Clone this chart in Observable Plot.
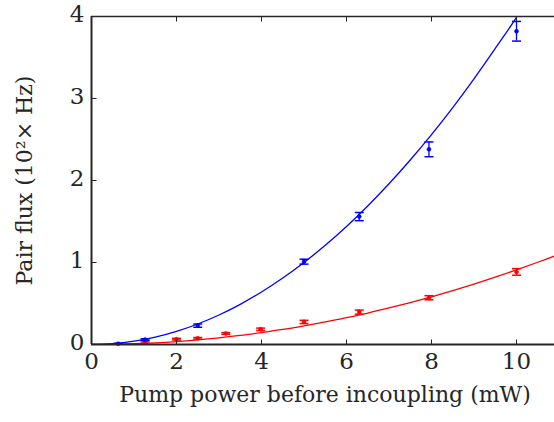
<!DOCTYPE html>
<html><head><meta charset="utf-8">
<script src="https://cdn.jsdelivr.net/npm/d3@7"></script>
<script src="https://cdn.jsdelivr.net/npm/@observablehq/plot@0.6"></script>
<style>body{margin:0;background:#fff}</style>
</head><body><div id="chart"></div>
<script>
const xTicks = [0, 2, 4, 6, 8, 10];
const yTicks = [0, 1, 2, 3, 4];
const xLabel = "Pump power before incoupling (mW)";
const yLabel = "Pair flux (10²× Hz)";

const blueX = [0.63, 1.26, 2.5, 5.0, 6.3, 7.94, 10.0];
const blueY = [0.01, 0.06, 0.23, 1.01, 1.56, 2.38, 3.82];
const blueErr = [0.005, 0.01, 0.02, 0.03, 0.05, 0.09, 0.12];

const redX = [1.26, 2.0, 2.5, 3.16, 3.98, 5.0, 6.3, 7.94, 10.0];
const redY = [0.04, 0.065, 0.075, 0.135, 0.185, 0.275, 0.395, 0.57, 0.885];
const redErr = [0.01, 0.01, 0.01, 0.01, 0.015, 0.02, 0.025, 0.025, 0.04];

const fitX = [0,0.5,1,1.5,2,2.5,3,3.5,4,4.5,5,5.5,6,6.5,7,7.5,8,8.5,9,9.5,10,10.5,11];
const blueFit = [0,0.01,0.04,0.09,0.16,0.25,0.36,0.49,0.64,0.81,1.0,1.21,1.44,1.69,1.96,2.25,2.56,2.89,3.24,3.61,3.99,4.41,4.84];
const redFit = [0,0.002,0.009,0.020,0.036,0.057,0.082,0.111,0.146,0.184,0.228,0.275,0.328,0.384,0.446,0.512,0.582,0.657,0.737,0.821,0.91,1.003,1.10];

const blue = blueX.map((x,i)=>({x, y: blueY[i], e: blueErr[i]}));
const red = redX.map((x,i)=>({x, y: redY[i], e: redErr[i]}));
const bFit = fitX.map((x,i)=>({x, y: blueFit[i]}));
const rFit = fitX.map((x,i)=>({x, y: redFit[i]}));

const BLUE = "#0000ff", RED = "#ff0000", AX = "#262626";
const FONT = "DejaVu Serif";

const capSym = {draw(ctx){ ctx.moveTo(-4.5,0); ctx.lineTo(4.5,0); }};
const tickUp = {draw(ctx){ ctx.moveTo(0,0); ctx.lineTo(0,-5); }};
const tickDown = {draw(ctx){ ctx.moveTo(0,0); ctx.lineTo(0,5); }};
const tickRight = {draw(ctx){ ctx.moveTo(0,0); ctx.lineTo(5,0); }};

function errMarks(data, color){
  return [
    Plot.ruleX(data, {x: "x", y1: d=>d.y-d.e, y2: d=>d.y+d.e, stroke: color, strokeWidth: 1.3}),
    Plot.dot(data, {x: "x", y: d=>d.y-d.e, symbol: capSym, stroke: color, strokeWidth: 1.5, r: 3}),
    Plot.dot(data, {x: "x", y: d=>d.y+d.e, symbol: capSym, stroke: color, strokeWidth: 1.5, r: 3}),
    Plot.dot(data, {x: "x", y: "y", r: 2, fill: color, stroke: color, strokeWidth: 0.5})
  ];
}

const chart = Plot.plot({
  width: 554, height: 422,
  marginLeft: 91, marginRight: 0, marginTop: 16, marginBottom: 78,
  style: {background: "#fff"},
  x: {domain: [0, 10.894], axis: null},
  y: {domain: [0, 4], axis: null},
  marks: [
    Plot.line(rFit, {x: "x", y: "y", stroke: RED, strokeWidth: 1.3, curve: "catmull-rom", clip: true}),
    Plot.line(bFit, {x: "x", y: "y", stroke: BLUE, strokeWidth: 1.3, curve: "catmull-rom", clip: true}),
    ...errMarks(red, RED),
    ...errMarks(blue, BLUE),
    Plot.ruleY([0], {stroke: AX, strokeWidth: 2}),
    Plot.ruleY([4], {stroke: AX, strokeWidth: 1.5}),
    Plot.ruleX([0], {stroke: AX, strokeWidth: 2}),
    Plot.dot(xTicks, {x: d=>d, y: 0, symbol: tickUp, stroke: AX, strokeWidth: 1}),
    Plot.dot(xTicks, {x: d=>d, y: 4, symbol: tickDown, stroke: AX, strokeWidth: 1}),
    Plot.dot(yTicks, {x: 0, y: d=>d, symbol: tickRight, stroke: AX, strokeWidth: 1}),
    Plot.text(xTicks, {x: d=>d, y: 0, text: d=>String(d), dy: 17, fontSize: 23, fill: AX, fontFamily: FONT}),
    Plot.text(yTicks, {x: 0, y: d=>d, text: d=>String(d), dx: -7, dy: -2, textAnchor: "end", fontSize: 23, fill: AX, fontFamily: FONT}),
    Plot.text([xLabel], {frameAnchor: "bottom", text: d=>d, dx: 2, dy: 57, textAnchor: "middle", fontSize: 22, fill: AX, fontFamily: FONT}),
    Plot.text([yLabel], {frameAnchor: "left", text: d=>d, dx: -67, rotate: -90, textAnchor: "middle", fontSize: 22, fill: AX, fontFamily: FONT})
  ]
});
document.getElementById("chart").appendChild(chart);
</script>
</body></html>
